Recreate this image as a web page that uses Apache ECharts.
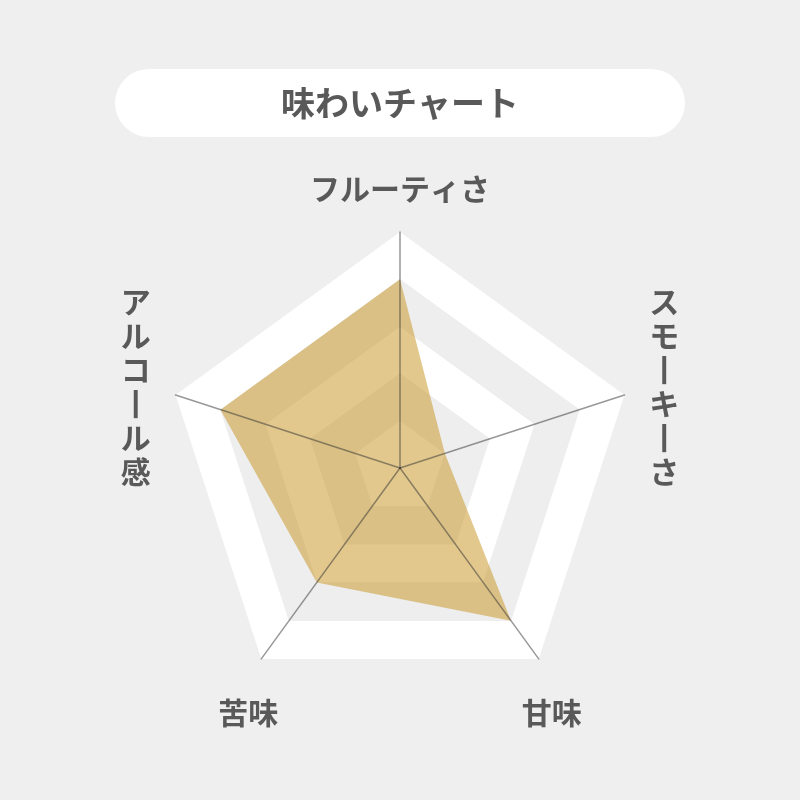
<!DOCTYPE html>
<html>
<head>
	<meta charset="utf-8">
	<title>味わいチャート</title>
	<style>
		html, body {
			margin: 0;
			padding: 0;
			background: #efefef;
		}

		#chart {
			width: 800px;
			height: 800px;
		}
	</style>
</head>
<body>
	<div id="chart"></div>
	<script src="https://cdn.jsdelivr.net/npm/echarts@6/dist/echarts.min.js"></script>
	<script type="text/javascript">
		// 味わいの項目（上から反時計回り）
		var tasteNames = ['フルーティさ', 'アルコール感', '苦味', '甘味', 'スモーキーさ'];
		var tasteValues = [4, 4, 3, 4, 1];
		var tasteMax = 5;
		var verticalNames = ['アルコール感', 'スモーキーさ'];
		var bottomNames = ['苦味', '甘味'];

		var fontFamily = '"Noto Sans CJK JP", "Noto Sans", sans-serif';
		var textColor = '#595959';

		// 縦書きラベル：一文字ずつ改行、長音は縦棒に
		function verticalText(name) {
			return name.split('').map(function(c) {
				return c === 'ー' ? '丨' : c;
			}).join('\n');
		}

		var indicators = tasteNames.map(function(name) {
			var ind = {
				name: name,
				max: tasteMax
			};
			if (bottomNames.indexOf(name) >= 0) {
				ind.nameGap = 22;
				ind.nameTextStyle = {
					align: 'center',
					verticalAlign: 'top',
					padding: [19, 0, 0, 0]
				};
			}
			return ind;
		});

		var myChart = echarts.init(document.getElementById('chart'));
		var option = {
			backgroundColor: '#efefef',
			title: {
				text: '味わいチャート',
				left: 'center',
				top: 69,
				backgroundColor: '#ffffff',
				borderRadius: 34,
				padding: [17, 166],
				textStyle: {
					fontFamily: fontFamily,
					fontWeight: 'bold',
					fontSize: 34,
					lineHeight: 34,
					color: textColor
				}
			},
			radar: [{
				center: [400, 468],
				radius: 236,
				startAngle: 90,
				shape: 'polygon',
				splitNumber: 5,
				indicator: indicators,
				nameGap: 26,
				axisName: {
					fontFamily: fontFamily,
					fontWeight: 'bold',
					fontSize: 30,
					lineHeight: 34,
					color: textColor,
					formatter: function(name) {
						if (verticalNames.indexOf(name) >= 0) {
							return verticalText(name);
						}
						return name;
					}
				},
				axisLine: { show: false },
				splitLine: { show: false },
				splitArea: {
					show: true,
					areaStyle: {
						color: ['#ffffff', '#eeeeee']
					}
				}
			}, {
				// 塗りの上に軸線を重ねる
				center: [400, 468],
				radius: 236,
				startAngle: 90,
				shape: 'polygon',
				splitNumber: 5,
				indicator: tasteNames.map(function(name) {
					return { name: name, max: tasteMax };
				}),
				z: 5,
				axisName: { show: false },
				axisLine: {
					show: true,
					lineStyle: {
						color: 'rgba(50,50,50,0.5)',
						width: 1.5
					}
				},
				splitLine: { show: false },
				splitArea: { show: false }
			}],
			series: [{
				type: 'radar',
				radarIndex: 0,
				symbol: 'none',
				silent: true,
				lineStyle: { width: 0 },
				areaStyle: {
					color: '#c5911b',
					opacity: 0.5
				},
				data: [{
					value: tasteValues,
					name: '味わい'
				}]
			}]
		};
		myChart.setOption(option);
	</script>
</body>
</html>
